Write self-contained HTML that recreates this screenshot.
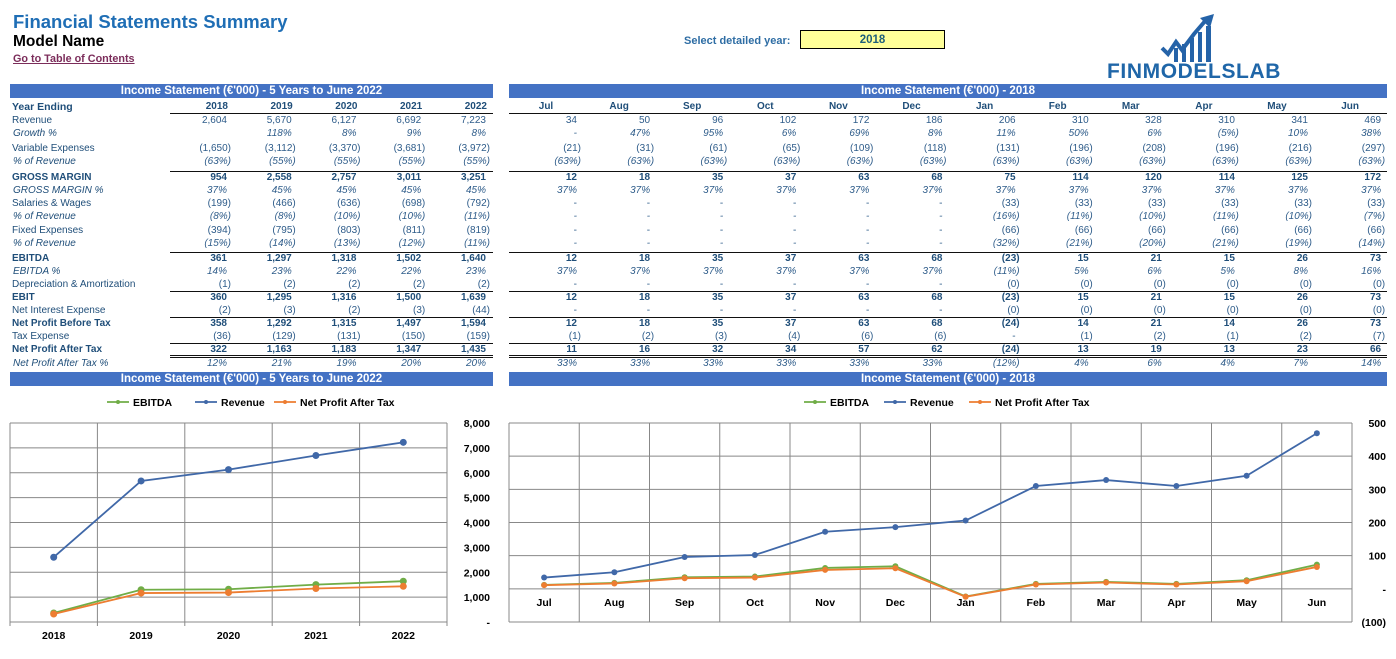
<!DOCTYPE html>
<html><head><meta charset="utf-8">
<style>
body{margin:0;width:1396px;height:659px;background:#fff;position:relative;overflow:hidden;font-family:"Liberation Sans",Tahoma,sans-serif;}
.a{position:absolute;white-space:nowrap;}
.band{position:absolute;background:#4472C4;color:#fff;font-weight:bold;font-size:11.5px;text-align:center;height:14px;line-height:14px;}
.lbl{position:absolute;left:12px;font-size:10px;color:#1F4E79;white-space:nowrap;line-height:12px;}
.v{position:absolute;font-size:10px;color:#2E5C8A;white-space:nowrap;text-align:right;line-height:12px;}
.b{font-weight:bold;color:#1F4E79;}
.i{font-style:italic;}
.hl{position:absolute;height:0;border-top:1.5px solid #111;}
</style></head><body>
<div class="a" style="left:13px;top:11px;font-size:18.5px;font-weight:bold;color:#1F6EB5;">Financial Statements Summary</div>
<div class="a" style="left:13px;top:33px;font-size:15.5px;font-weight:bold;color:#000;">Model Name</div>
<a class="a" style="left:13px;top:53px;font-size:10.8px;font-weight:bold;color:#7B2C5A;text-decoration:underline;">Go to Table of Contents</a>
<div class="a" style="left:684px;top:35px;font-size:11px;font-weight:bold;color:#2E6DA4;">Select detailed year:</div>
<div class="a" style="left:800px;top:30px;width:143px;height:17px;border:1.5px solid #000;background:#FFFF99;text-align:center;font-size:11.5px;font-weight:bold;color:#1F5F7A;line-height:19px;">2018</div>
<svg class="a" style="left:1160px;top:14px" width="60" height="48" viewBox="0 0 60 48">
<polyline points="2,34 8,40 16,28 22,36 34,20 46,6" fill="none" stroke="#2563A8" stroke-width="4"/>
<polygon points="40,4 54,0 50,14" fill="#2563A8"/>
<rect x="14" y="34" width="4" height="14" fill="#2563A8"/><rect x="22" y="30" width="4" height="18" fill="#2563A8"/><rect x="30" y="24" width="4" height="24" fill="#2563A8"/><rect x="38" y="18" width="4" height="30" fill="#2563A8"/><rect x="46" y="12" width="5" height="36" fill="#2563A8"/>
</svg>
<div class="a" style="left:1107px;top:60px;font-size:21px;font-weight:900;color:#1F66A8;letter-spacing:0.6px;">FINMODELSLAB</div>

<div class="band" style="left:10px;top:84px;width:483px;">Income Statement (€'000) - 5 Years to June 2022</div>
<div class="band" style="left:509px;top:84px;width:878px;">Income Statement (€'000) - 2018</div>
<div class="band" style="left:10px;top:372px;width:483px;">Income Statement (€'000) - 5 Years to June 2022</div>
<div class="band" style="left:509px;top:372px;width:878px;">Income Statement (€'000) - 2018</div>

<div id="tbl"></div>
<svg id="c1" class="a" style="left:0;top:390px" width="500" height="269"></svg>
<svg id="c2" class="a" style="left:500px;top:390px" width="896" height="269"></svg>

<script>
const years=['2018','2019','2020','2021','2022'];
const months=['Jul','Aug','Sep','Oct','Nov','Dec','Jan','Feb','Mar','Apr','May','Jun'];
const rows=[
 ['Revenue',120,'','2,604|5,670|6,127|6,692|7,223','34|50|96|102|172|186|206|310|328|310|341|469'],
 ['Growth %',133,'i','|118%|8%|9%|8%','-|47%|95%|6%|69%|8%|11%|50%|6%|(5%)|10%|38%'],
 ['Variable Expenses',148,'','(1,650)|(3,112)|(3,370)|(3,681)|(3,972)','(21)|(31)|(61)|(65)|(109)|(118)|(131)|(196)|(208)|(196)|(216)|(297)'],
 ['% of Revenue',161,'i','(63%)|(55%)|(55%)|(55%)|(55%)','(63%)|(63%)|(63%)|(63%)|(63%)|(63%)|(63%)|(63%)|(63%)|(63%)|(63%)|(63%)'],
 ['GROSS MARGIN',177,'b','954|2,558|2,757|3,011|3,251','12|18|35|37|63|68|75|114|120|114|125|172'],
 ['GROSS MARGIN %',190,'i','37%|45%|45%|45%|45%','37%|37%|37%|37%|37%|37%|37%|37%|37%|37%|37%|37%'],
 ['Salaries & Wages',203,'','(199)|(466)|(636)|(698)|(792)','-|-|-|-|-|-|(33)|(33)|(33)|(33)|(33)|(33)'],
 ['% of Revenue',216,'i','(8%)|(8%)|(10%)|(10%)|(11%)','-|-|-|-|-|-|(16%)|(11%)|(10%)|(11%)|(10%)|(7%)'],
 ['Fixed Expenses',230,'','(394)|(795)|(803)|(811)|(819)','-|-|-|-|-|-|(66)|(66)|(66)|(66)|(66)|(66)'],
 ['% of Revenue',243,'i','(15%)|(14%)|(13%)|(12%)|(11%)','-|-|-|-|-|-|(32%)|(21%)|(20%)|(21%)|(19%)|(14%)'],
 ['EBITDA',258,'b','361|1,297|1,318|1,502|1,640','12|18|35|37|63|68|(23)|15|21|15|26|73'],
 ['EBITDA %',271,'i','14%|23%|22%|22%|23%','37%|37%|37%|37%|37%|37%|(11%)|5%|6%|5%|8%|16%'],
 ['Depreciation & Amortization',284,'','(1)|(2)|(2)|(2)|(2)','-|-|-|-|-|-|(0)|(0)|(0)|(0)|(0)|(0)'],
 ['EBIT',297,'b','360|1,295|1,316|1,500|1,639','12|18|35|37|63|68|(23)|15|21|15|26|73'],
 ['Net Interest Expense',310,'','(2)|(3)|(2)|(3)|(44)','-|-|-|-|-|-|(0)|(0)|(0)|(0)|(0)|(0)'],
 ['Net Profit Before Tax',323,'b','358|1,292|1,315|1,497|1,594','12|18|35|37|63|68|(24)|14|21|14|26|73'],
 ['Tax Expense',336,'','(36)|(129)|(131)|(150)|(159)','(1)|(2)|(3)|(4)|(6)|(6)|-|(1)|(2)|(1)|(2)|(7)'],
 ['Net Profit After Tax',349,'b','322|1,163|1,183|1,347|1,435','11|16|32|34|57|62|(24)|13|19|13|23|66'],
 ['Net Profit After Tax %',363,'i','12%|21%|19%|20%|20%','33%|33%|33%|33%|33%|33%|(12%)|4%|6%|4%|7%|14%']
];
const T=document.getElementById('tbl');
function add(html){T.insertAdjacentHTML('beforeend',html);}
add('<div class="lbl b" style="top:101px;font-size:10.5px">Year Ending</div>');
years.forEach((y,i)=>add(`<div class="v b" style="left:${188+i*64.75}px;width:40px;top:101px;text-align:right;">${y}</div>`));
months.forEach((m,i)=>add(`<div class="v b" style="left:${521+i*73.1}px;width:50px;top:101px;text-align:center;">${m}</div>`));
rows.forEach((r,ri)=>{
 const cls=r[2];const top=r[1]-5;
 const slug=r[0].toLowerCase().replace(/[^a-z]+/g,'-');
 add(`<div class="lbl ${cls}" style="top:${top}px;${cls=='i'?'left:13px':''}">${r[0]}</div>`);
 r[3].split('|').forEach((v,i)=>{const pad=v.endsWith(')')?0:4;add(`<div class="v ${cls}" style="left:${170+i*64.75}px;width:${61-pad}px;top:${top}px;">${v}</div>`);});
 r[4].split('|').forEach((v,i)=>{const pad=v.endsWith(')')?0:4;add(`<div class="v ${cls}" style="left:${520+i*73.1}px;width:${61-pad}px;top:${top}px;">${v}</div>`);});
});
[113,171,252,291,317,343,355,357].forEach(y=>{
 add(`<div class="hl" style="left:170px;width:323px;top:${y}px;${y>=355?'border-top-width:1px':''}"></div>`);
 add(`<div class="hl" style="left:509px;width:878px;top:${y}px;${y>=355?'border-top-width:1px':''}"></div>`);
});
</script>
<script>
const yearCats=['2018','2019','2020','2021','2022'];
const yrRevenue=[2604,5670,6127,6692,7223];
const yrEbitda=[361,1297,1318,1502,1640];
const yrNpat=[322,1163,1183,1347,1435];
const yrTicks=[0,1000,2000,3000,4000,5000,6000,7000,8000];
const yrTickLabels=['-','1,000','2,000','3,000','4,000','5,000','6,000','7,000','8,000'];
const monCats=['Jul','Aug','Sep','Oct','Nov','Dec','Jan','Feb','Mar','Apr','May','Jun'];
const monRevenue=[34,50,96,102,172,186,206,310,328,310,341,469];
const monEbitda=[12,18,35,37,63,68,-23,15,21,15,26,73];
const monNpat=[11,16,32,34,57,62,-24,13,19,13,23,66];
const monTicks=[-100,0,100,200,300,400,500];
const monTickLabels=['(100)','-','100','200','300','400','500'];
const COL={ebitda:'#70AD47',revenue:'#4068A8',npat:'#ED7D31'};
const NS='http://www.w3.org/2000/svg';
function mk(svg,tag,attrs){const e=document.createElementNS(NS,tag);for(const k in attrs)e.setAttribute(k,attrs[k]);svg.appendChild(e);return e;}
function chart(id,o){
 const svg=document.getElementById(id);
 const n=o.cats.length,cw=(o.x1-o.x0)/n;
 const xs=i=>o.x0+cw*(i+0.5);
 const ys=v=>o.yb-(v-o.vmin)/(o.vmax-o.vmin)*(o.yb-o.yt);
 o.ticks.forEach((t,i)=>{
  const l=mk(svg,'line',{x1:o.x0,x2:o.x1,y1:ys(t),y2:ys(t),stroke:'#888','stroke-width':1});
  
  const tx=mk(svg,'text',{x:o.x1+o.lx,y:ys(t)+4,'text-anchor':'end','font-size':10.5,'font-weight':'bold',fill:'#000','font-family':'Liberation Sans, sans-serif'});
  tx.textContent=o.tickLabels[i];
 });
 for(let i=0;i<=n;i++){const l=mk(svg,'line',{x1:o.x0+cw*i,x2:o.x0+cw*i,y1:o.yt,y2:o.yb+o.vext,stroke:'#888','stroke-width':1});
  }
 const zy=ys(0);
 o.cats.forEach((c,i)=>{const t=mk(svg,'text',{x:xs(i),y:zy+o.cy,'text-anchor':'middle','font-size':10.5,'font-weight':'bold',fill:'#000','font-family':'Liberation Sans, sans-serif'});
  t.textContent=c;});
 [['ebitda',o.e],['revenue',o.r],['npat',o.p]].forEach(s=>{
  const pl=mk(svg,'polyline',{points:s[1].map((v,i)=>xs(i)+','+ys(v)).join(' '),fill:'none',stroke:COL[s[0]],'stroke-width':1.8});
  
  s[1].forEach((v,i)=>{const c=mk(svg,'circle',{cx:xs(i),cy:ys(v),r:o.mr,fill:COL[s[0]]});
   });
 });
 o.legend.forEach((L,k)=>{const key=['ebitda','revenue','npat'][k];
  mk(svg,'line',{x1:L[0],x2:L[0]+22,y1:12,y2:12,stroke:COL[key],'stroke-width':1.8});
  mk(svg,'circle',{cx:L[0]+11,cy:12,r:2,fill:COL[key]});
  const t=mk(svg,'text',{x:L[0]+26,y:16,'font-size':10.5,'font-weight':'bold',fill:'#000','font-family':'Liberation Sans, sans-serif'});
  t.textContent=L[1];});
}
chart('c1',{cats:yearCats,r:yrRevenue,e:yrEbitda,p:yrNpat,ticks:yrTicks,tickLabels:yrTickLabels,x0:10,x1:447,yt:33,yb:232,vmin:0,vmax:8000,lx:43,cy:17,vext:4,mr:3.5,
 legend:[[107,'EBITDA'],[195,'Revenue'],[274,'Net Profit After Tax']]});
chart('c2',{cats:monCats,r:monRevenue,e:monEbitda,p:monNpat,ticks:monTicks,tickLabels:monTickLabels,x0:9,x1:852,yt:33,yb:232,vmin:-100,vmax:500,lx:34,cy:17,vext:0,mr:3,
 legend:[[304,'EBITDA'],[384,'Revenue'],[469,'Net Profit After Tax']]});
</script>
</body></html>
